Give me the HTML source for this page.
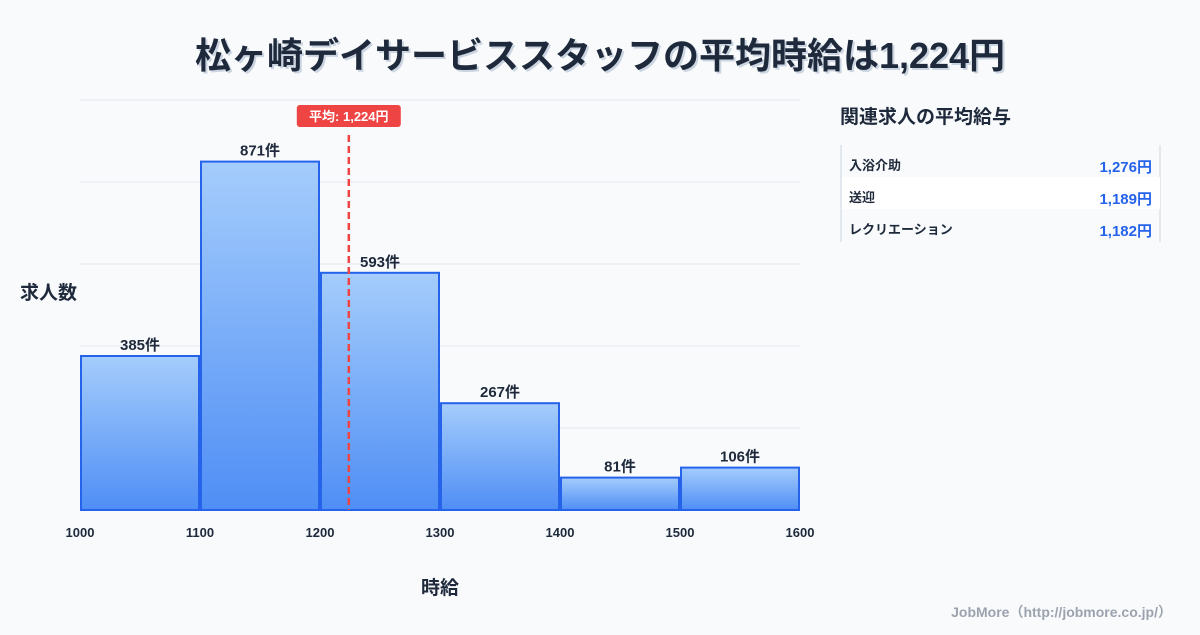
<!DOCTYPE html>
<html><head><meta charset="utf-8"><style>
body{margin:0;width:1200px;height:630px;background:#f8fafc;overflow:hidden;font-family:"Liberation Sans","Noto Sans CJK JP",sans-serif;}
svg text{font-family:"Liberation Sans","Noto Sans CJK JP",sans-serif;}
</style></head><body>
<svg width="1200" height="630">
<defs><linearGradient id="g" x1="0" y1="0" x2="0" y2="1"><stop offset="0" stop-color="#a5cdfc"/><stop offset="1" stop-color="#4f8ef5"/></linearGradient></defs>
<text x="600" y="68" text-anchor="middle" font-size="36" font-weight="bold" fill="#cbd5e1" transform="translate(2,2)">松ヶ崎デイサービススタッフの平均時給は1,224円</text>
<text x="600" y="68" text-anchor="middle" font-size="36" font-weight="bold" fill="#1e293b">松ヶ崎デイサービススタッフの平均時給は1,224円</text>
<g id="grid"></g><g id="bars"></g><g id="xt"></g>
<text x="20" y="299" font-size="19" font-weight="bold" fill="#1e293b">求人数</text>
<text x="440" y="594" text-anchor="middle" font-size="19" font-weight="bold" fill="#1e293b">時給</text>
<g id="avg"></g>
<text x="840" y="123" font-size="19" font-weight="bold" fill="#1e293b">関連求人の平均給与</text>
<line x1="841" y1="145" x2="841" y2="242" stroke="#cbd5e1"/>
<line x1="1160" y1="145" x2="1160" y2="242" stroke="#cbd5e1"/>
<rect x="842" y="177" width="318" height="32" fill="#fff"/>
<g id="rel"></g>
<text x="1172" y="617" text-anchor="end" font-size="14" font-weight="bold" fill="#9ca3af">JobMore（http://jobmore.co.jp/）</text>
</svg>
<script>
const bins=[1000,1100,1200,1300,1400,1500];
const counts=[385,871,593,267,81,106];
const xTicks=[1000,1100,1200,1300,1400,1500,1600];
const avgVal=1224;
const relNames=["入浴介助","送迎","レクリエーション"];
const relVals=["1,276円","1,189円","1,182円"];
const NS="http://www.w3.org/2000/svg";
const x=v=>80+(v-1000)/600*720, y=v=>510-v*0.4;
function mk(p,t,a,txt){const e=document.createElementNS(NS,t);for(const k in a)e.setAttribute(k,a[k]);if(txt!=null)e.textContent=txt;document.getElementById(p).appendChild(e);return e;}
for(let i=0;i<=5;i++){const e=mk('grid','line',{x1:80,x2:800,y1:510-i*82,y2:510-i*82,stroke:'#e2e8f0'});

}
bins.forEach((b,i)=>{const r=mk('bars','rect',{x:x(b)+1,y:y(counts[i]),width:x(b+100)-x(b)-2,height:510-y(counts[i]),fill:'url(#g)',stroke:'#2563eb','stroke-width':2});


const t=mk('bars','text',{x:(x(b)+x(b+100))/2,y:y(counts[i])-6,'text-anchor':'middle','font-size':15,'font-weight':'bold',fill:'#1e293b'},counts[i]+'件');

});
xTicks.forEach(v=>{const t=mk('xt','text',{x:x(v),y:537,'text-anchor':'middle','font-size':13,'font-weight':'bold',fill:'#1e293b'},v);

});
const ax=x(avgVal);
const l=mk('avg','line',{x1:ax,x2:ax,y1:135,y2:510,stroke:'#ef4444','stroke-width':2.5,'stroke-dasharray':'7,4'});


const br=mk('avg','rect',{x:ax-52,y:105,width:104,height:22,rx:3,fill:'#ef4444'});


const bt=mk('avg','text',{x:ax,y:121,'text-anchor':'middle','font-size':13,'font-weight':'bold',fill:'#fff'},'平均: 1,224円');


relNames.forEach((n,i)=>{const yy=170+i*32;
const a=mk('rel','text',{x:849,y:yy,'font-size':13,'font-weight':'bold',fill:'#1e293b'},n);


const b=mk('rel','text',{x:1152,y:yy+2,'text-anchor':'end','font-size':15,'font-weight':'bold',fill:'#2563eb'},relVals[i]);

});
</script>
</body></html>
